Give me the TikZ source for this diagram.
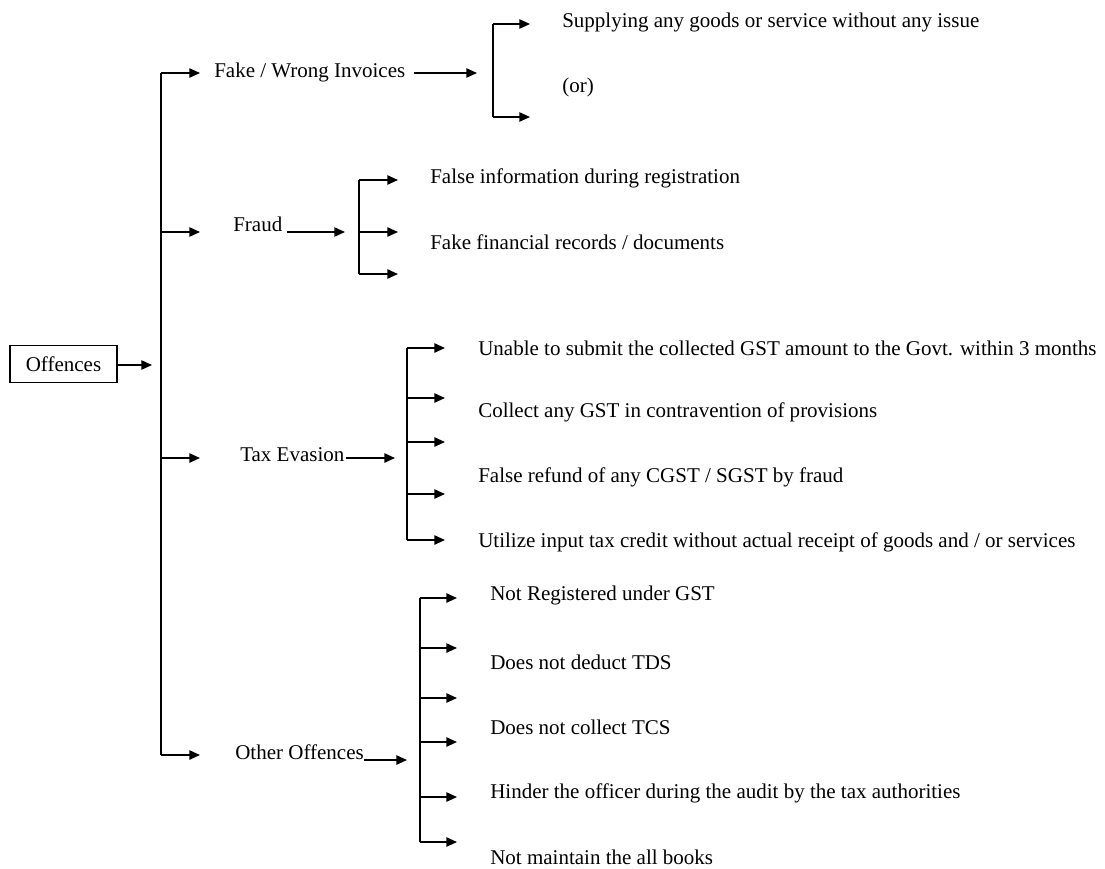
\documentclass[tikz,border=0pt]{standalone}
\usepackage{fontspec}
\setmainfont{Liberation Serif}
\usetikzlibrary{arrows.meta}
\begin{document}
\begin{tikzpicture}[x=0.75pt,y=-0.75pt,
  txt/.style={anchor=west,inner sep=0pt,font=\fontsize{15.75}{18}\selectfont},
  arr/.style={line width=1.2pt,-{Triangle[length=8pt,width=7pt]}},
  ln/.style={line width=1.2pt}]
\useasboundingbox (0,0) rectangle (1105,868);
% root
\node[draw,line width=1.2pt,minimum width=80pt,minimum height=28pt,inner sep=0pt,font=\fontsize{15.75}{18}\selectfont] (off) at (63.5,364) {Offences};
\coordinate (offtip) at (152,365);
\draw[arr] (off.east |- offtip) -- (offtip);
% main spine
\coordinate (m1) at (161,73);
\coordinate (m2) at (161,232);
\coordinate (m3) at (161,458);
\coordinate (m4) at (161,755);
\draw[ln] (m1) -- (m4);
\coordinate (m1t) at (200,73);
\coordinate (m2t) at (200,232);
\coordinate (m3t) at (200,458);
\coordinate (m4t) at (200,755);
\draw[arr] (m1) -- (m1t);
\draw[arr] (m2) -- (m2t);
\draw[arr] (m3) -- (m3t);
\draw[arr] (m4) -- (m4t);
% categories
\node[txt] (fake) at (214,72) {Fake / Wrong Invoices};
\node[txt] (fraud) at (233,224) {Fraud};
\node[txt] (tax) at (240,455) {Tax Evasion};
\node[txt] (other) at (235,752) {Other Offences};
% Fake branch
\coordinate (fb) at (477,73);
\draw[arr] ([xshift=6pt]fake.east |- fb) -- (fb);
\coordinate (fs1) at (493,24); \coordinate (fs2) at (493,117);
\coordinate (ft1) at (530,24); \coordinate (ft2) at (530,117);
\draw[ln] (fs1) -- (fs2);
\draw[arr] (fs1) -- (ft1);
\draw[arr] (fs2) -- (ft2);
\node[txt] (sup) at (562,22) {Supplying any goods or service without any issue};
\node[txt] (or) at (562,87) {(or)};
% Fraud branch
\coordinate (rb) at (345,232);
\draw[arr] ([xshift=3pt]fraud.east |- rb) -- (rb);
\coordinate (rs1) at (359,180); \coordinate (rs2) at (359,232); \coordinate (rs3) at (359,274);
\coordinate (rt1) at (398,180); \coordinate (rt2) at (398,232); \coordinate (rt3) at (398,274);
\draw[ln] (rs1) -- (rs3);
\draw[arr] (rs1) -- (rt1);
\draw[arr] (rs2) -- (rt2);
\draw[arr] (rs3) -- (rt3);
\node[txt] (r1) at (430,178) {False information during registration};
\node[txt] (r2) at (430,242) {Fake financial records / documents};
% Tax Evasion branch
\coordinate (tb) at (395,458);
\draw[arr] ([xshift=1pt]tax.east |- tb) -- (tb);
\coordinate (ts1) at (407,348); \coordinate (ts2) at (407,398); \coordinate (ts3) at (407,442);
\coordinate (ts4) at (407,494); \coordinate (ts5) at (407,540);
\coordinate (tt1) at (445,348); \coordinate (tt2) at (445,398); \coordinate (tt3) at (445,442);
\coordinate (tt4) at (445,494); \coordinate (tt5) at (445,540);
\draw[ln] (ts1) -- (ts5);
\draw[arr] (ts1) -- (tt1);
\draw[arr] (ts2) -- (tt2);
\draw[arr] (ts3) -- (tt3);
\draw[arr] (ts4) -- (tt4);
\draw[arr] (ts5) -- (tt5);
\node[txt] (t1) at (478,348) {Unable to submit the collected GST amount to the Govt. within 3 months};
\node[txt] (t2) at (478,412) {Collect any GST in contravention of provisions};
\node[txt] (t3) at (478,477) {False refund of any CGST / SGST by fraud};
\node[txt] (t4) at (478,542) {Utilize input tax credit without actual receipt of goods and / or services};
% Other Offences branch
\coordinate (ob) at (407,760);
\draw[arr] (other.east |- ob) -- (ob);
\coordinate (os1) at (420,598); \coordinate (os2) at (420,648); \coordinate (os3) at (420,698);
\coordinate (os4) at (420,742); \coordinate (os5) at (420,797); \coordinate (os6) at (420,842);
\coordinate (ot1) at (457,598); \coordinate (ot2) at (457,648); \coordinate (ot3) at (457,698);
\coordinate (ot4) at (457,742); \coordinate (ot5) at (457,797); \coordinate (ot6) at (457,842);
\draw[ln] (os1) -- (os6);
\draw[arr] (os1) -- (ot1);
\draw[arr] (os2) -- (ot2);
\draw[arr] (os3) -- (ot3);
\draw[arr] (os4) -- (ot4);
\draw[arr] (os5) -- (ot5);
\draw[arr] (os6) -- (ot6);
\node[txt] (o1) at (490,595) {Not Registered under GST};
\node[txt] (o2) at (490,662) {Does not deduct TDS};
\node[txt] (o3) at (490,727) {Does not collect TCS};
\node[txt] (o4) at (490,793) {Hinder the officer during the audit by the tax authorities};
\node[txt] (o5) at (490,857) {Not maintain the all books};
\end{tikzpicture}
\end{document}
